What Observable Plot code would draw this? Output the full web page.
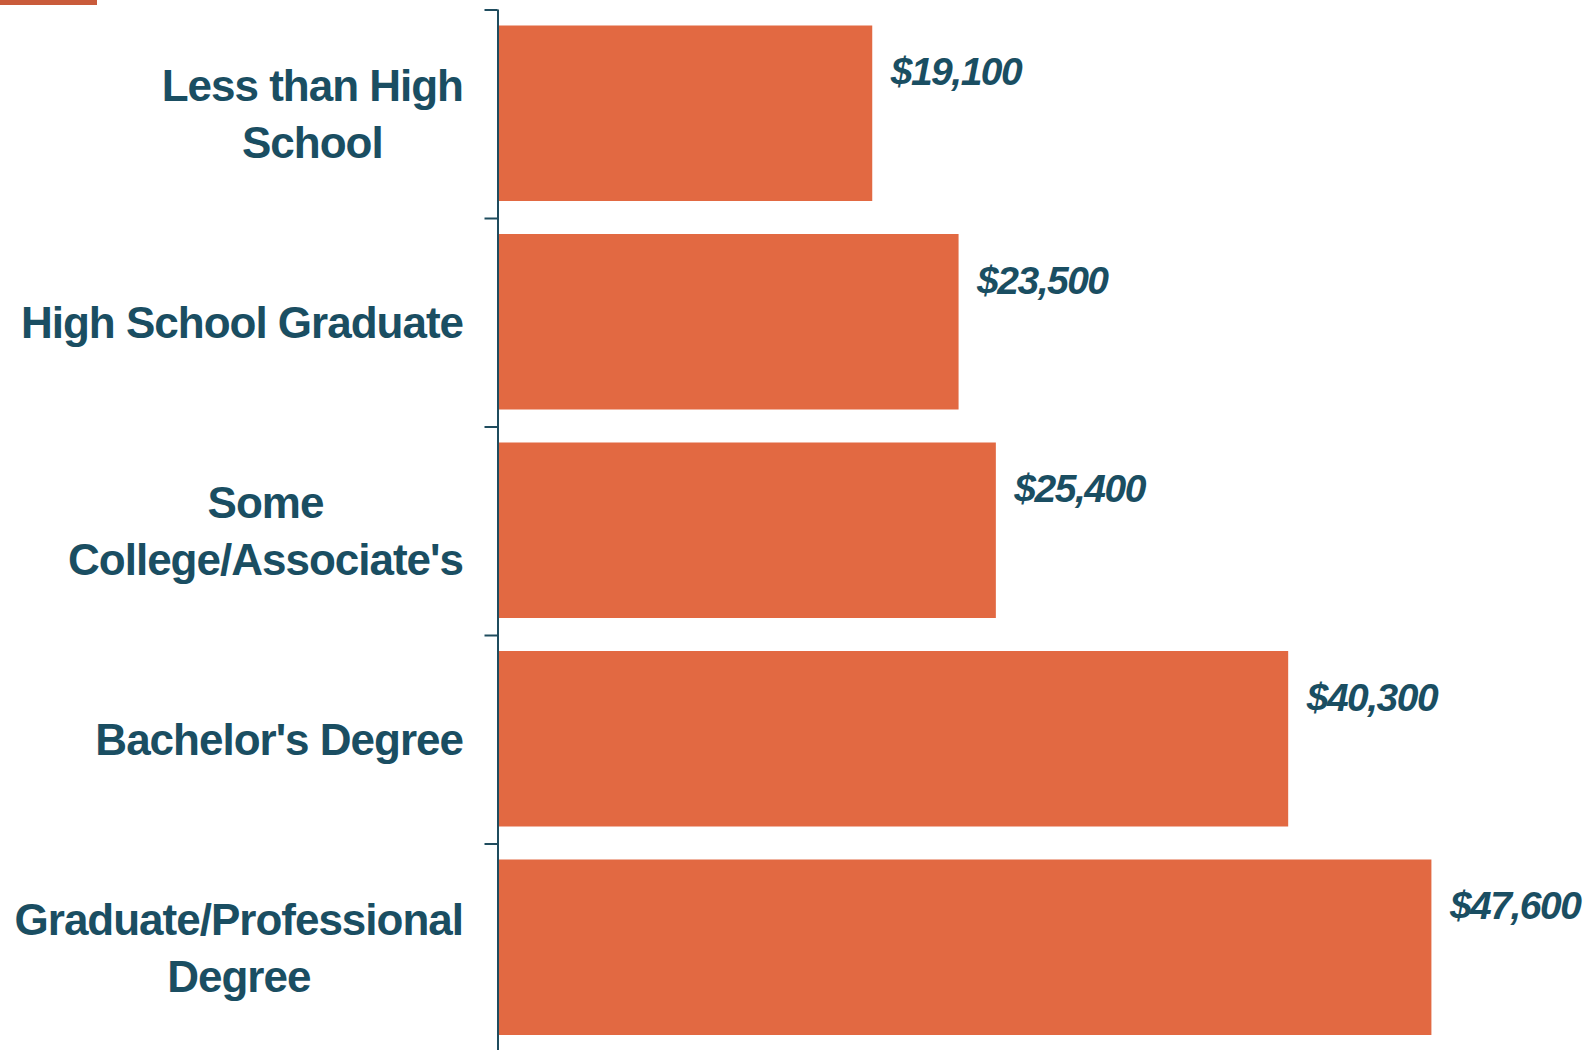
<!DOCTYPE html>
<html>
<head>
<meta charset="utf-8">
<script src="https://cdn.jsdelivr.net/npm/d3@7"></script>
<script src="https://cdn.jsdelivr.net/npm/@observablehq/plot@0.6"></script>
<style>
  html, body { margin: 0; padding: 0; background: #ffffff; }
  #wrap { position: relative; width: 1591px; height: 1050px; overflow: hidden; }
  #accent { position: absolute; left: 0; top: 0; width: 97px; height: 5px; background: #c95b3b; }
  g[font-size="44"] text, g[font-size="44"] tspan { letter-spacing: -1px; }
  g[font-size="39"] text, g[font-size="39"] tspan { letter-spacing: -1.5px; }
</style>
</head>
<body>
<div id="wrap"><div id="chart"></div><div id="accent"></div></div>
<script>
// ---- data ----
const categories = [
  "Less than High\nSchool",
  "High School Graduate",
  "Some\nCollege/Associate's",
  "Bachelor's Degree",
  "Graduate/Professional\nDegree"
];
const earnings = [19100, 23500, 25400, 40300, 47600];

const data = categories.map((category, index) => ({ category, value: earnings[index], index }));

// ---- styles ----
const BAR = "#e26942";
const TEXT = "#1a4e62";
const AXIS = "#1f4c5e";
const FONT = "'Liberation Sans', Arial, sans-serif";
const LABEL_SIZE = 44, LABEL_SPACING = -1, LABEL_GAP = 35;
const VALUE_SIZE = 39, VALUE_SPACING = -1.5;

const canvas = document.createElement("canvas");
const ctx = canvas.getContext("2d");
ctx.font = `bold ${LABEL_SIZE}px ${FONT}`;
const blockWidth = (s) => d3.max(s.split("\n"), line => ctx.measureText(line).width + LABEL_SPACING * line.length);

const labelMarks = data.map(d => Plot.text([d], {
  x: () => 0,
  y: r => r.index + 0.5,
  text: "category",
  textAnchor: "middle",
  lineAnchor: "middle",
  lineHeight: 1.3,
  dx: -(LABEL_GAP + blockWidth(d.category) / 2),
  dy: -3,
  fontSize: LABEL_SIZE,
  fontWeight: "bold",
  fontFamily: FONT,
  fill: TEXT
}));

const chart = Plot.plot({
  width: 1591,
  height: 1050,
  marginLeft: 497.5,
  marginRight: 112.5,
  marginTop: 9.5,
  marginBottom: 0,
  style: { fontFamily: FONT, background: "transparent" },
  x: { domain: [0, 50000], range: [497.5, 1478.5], axis: null },
  y: { domain: [0, 5], range: [9.5, 1052] },
  marks: [
    Plot.rectX(data, {
      x1: () => 0,
      x2: "value",
      y1: "index",
      y2: d => d.index + 1,
      insetTop: 16,
      insetBottom: 17,
      fill: BAR
    }),
    Plot.ruleX([0], { y1: 0, y2: 5, stroke: AXIS, strokeWidth: 2 }),
    Plot.axisY(d3.range(categories.length + 1), {
      tickSize: 13,
      tickFormat: () => "",
      stroke: AXIS,
      strokeWidth: 2,
      label: null
    }),
    ...labelMarks,
    Plot.text(data, {
      x: "value",
      y: d => d.index + 0.3,
      text: d => d3.format("$,")(d.value),
      textAnchor: "start",
      lineAnchor: "middle",
      dx: 18,
      fontSize: VALUE_SIZE,
      fontWeight: "bold",
      fontStyle: "italic",
      fontFamily: FONT,
      fill: TEXT
    })
  ]
});

// tighten glyph spacing to match the reference's condensed lettering
d3.select(chart).selectAll(`g[font-size="${LABEL_SIZE}"] text`).style("letter-spacing", `${LABEL_SPACING}px`);
d3.select(chart).selectAll(`g[font-size="${VALUE_SIZE}"] text`).style("letter-spacing", `${VALUE_SPACING}px`);

document.getElementById("chart").appendChild(chart);
</script>
</body>
</html>
